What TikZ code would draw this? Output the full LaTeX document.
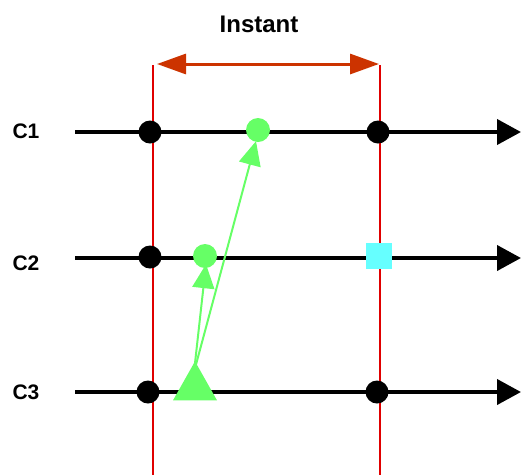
\documentclass[tikz,border=0pt]{standalone}
\usepackage{fontspec}
\setmainfont{Liberation Sans}
\usetikzlibrary{arrows.meta,shapes.geometric}
\definecolor{tred}{HTML}{E00000}
\definecolor{spanred}{HTML}{CC3300}
\definecolor{evgreen}{HTML}{66FF66}
\definecolor{evcyan}{HTML}{66FFFF}
\tikzset{
  timeline/.style={line width=4pt, -{Triangle[length=24pt,width=25pt]}},
  bound/.style={tred, line width=2pt},
  span/.style={spanred, line width=3pt, {Triangle[length=29pt,width=20pt]}-{Triangle[length=29pt,width=20pt]}},
  tick/.style={circle, fill=black, inner sep=0pt, minimum size=23pt},
  event/.style={circle, fill=evgreen, inner sep=0pt, minimum size=24pt},
  pending/.style={rectangle, fill=evcyan, inner sep=0pt, minimum size=26pt},
  source/.style={isosceles triangle, shape border rotate=90, isosceles triangle stretches, fill=evgreen, inner sep=0pt, minimum width=44pt, minimum height=39pt},
  msg/.style={evgreen, line width=2pt, -{Triangle[length=24pt,width=22pt]}},
  lbl/.style={font=\bfseries\fontsize{21}{21}\selectfont},
}
\begin{document}
\begin{tikzpicture}[x=1pt,y=-1pt]
\useasboundingbox (0,0) rectangle (521,475);

% instant boundaries
\coordinate (la) at (153,65);
\coordinate (lb) at (153,475);
\coordinate (ra) at (380,65);
\coordinate (rb) at (380,475);
\draw[bound] (la) -- (lb);
\draw[bound] (ra) -- (rb);
\coordinate (sl) at (157,64);
\coordinate (sr) at (379,64);
\draw[span] (sl) -- (sr);
\node[font=\bfseries\fontsize{24}{24}\selectfont] (inst) at (259,24) {Instant};

% timelines
\coordinate (s1) at (75,132);  \coordinate (e1) at (521,132);
\coordinate (s2) at (75,258);  \coordinate (e2) at (521,258);
\coordinate (s3) at (75,392);  \coordinate (e3) at (521,392);
\draw[timeline] (s1) -- (e1);
\draw[timeline] (s2) -- (e2);
\draw[timeline] (s3) -- (e3);
\node[lbl] (c1) at (26,131) {C1};
\node[lbl] (c2) at (26,263) {C2};
\node[lbl] (c3) at (26,392) {C3};

% boundary ticks
\node[tick] (t1a) at (150,132) {};
\node[tick] (t1b) at (378,132) {};
\node[tick] (t2a) at (150,257) {};
\node[tick] (t3a) at (148,392) {};
\node[tick] (t3b) at (377,392) {};
\node[pending] (p2) at (379,256) {};

% events
\node[event] (g1) at (258,130) {};
\node[event] (g2) at (205,256) {};
\node[source] (src) at (195,387.5) {};
\coordinate (top) at (194,372);
\draw[msg] (top) -- ([xshift=1pt,yshift=4pt]g2.south);
\draw[msg] (top) -- ([xshift=-2pt,yshift=1pt]g1.south);
\end{tikzpicture}
\end{document}
